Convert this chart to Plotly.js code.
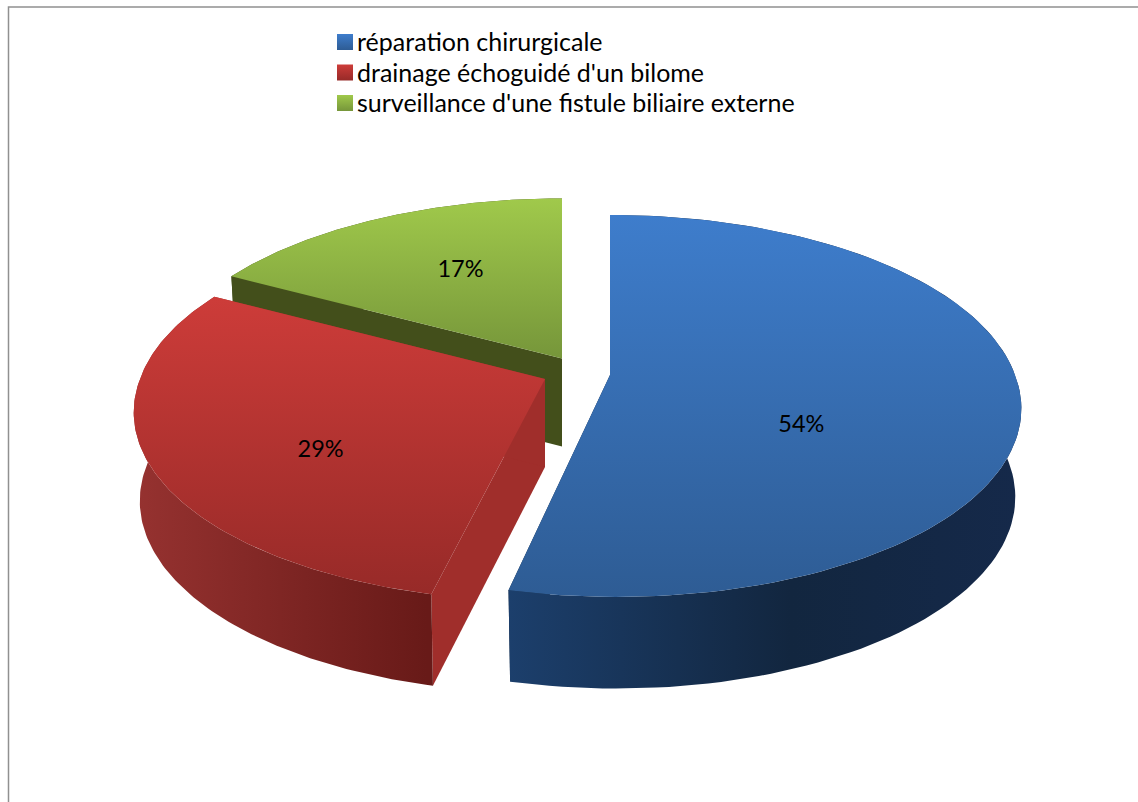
<!DOCTYPE html>
<html><head><meta charset="utf-8">
<script src="https://cdn.plot.ly/plotly-3.0.1.min.js"></script>
<style>html,body{margin:0;padding:0;background:#fff;overflow:hidden}#chart{width:1138px;height:802px}</style>
</head><body><div id="chart"></div>
<script>
// Data
var categories = ["réparation chirurgicale", "drainage échoguidé d'un bilome", "surveillance d'une fistule biliaire externe"];
var values = [53.6, 29.3, 17.1];
// Colours per slice
var topLight = ['#3e7dcc', '#cd3c39', '#a0c94b'];
var topDark  = ['#2e5c94', '#972a28', '#76963a'];
var sideA    = ['#1c3f6c', '#963230', '#434f1b'];
var sideB    = ['#12263f', '#681a18', '#434f1b'];
var sideEnd  = ['#15294a', '#681a18', '#434f1b'];
var sideMid  = [0.55, 0.98, 0.5];
var faceCol  = ['#12263f', '#a02e2b', '#434f1b'];
// Camera model of the tilted disc
var cam = {cx:576, cy:373, drop:88, a:405, b:186, aLow:399, bLow:189, k:0.162};
var explode = [[34,2],[-31,6],[-14,-14.5]];
var labelNudge = [[34,10],[-6,11],[19,1]];
var legendX = 345, legendY = 42, legendGap = 30.5, legendTextX = 357, legendTextDy = 3;

var total = values.reduce(function(s,v){return s+v;},0);
function project(low, off, th, r){
  var u = r*Math.sin(th), v = -r*Math.cos(th), d = 1-cam.k*v;
  var A = low?cam.aLow:cam.a, B = low?cam.bLow:cam.b;
  var spread = v>0 ? 1/d : 1;
  return [cam.cx + off[0]*spread + A*u/d, cam.cy + (low?cam.drop:0) + off[1] + B*v/d];
}
function arc(low, off, t0, t1){
  var pts=[], n=120;
  for(var i=0;i<=n;i++){ pts.push(project(low, off, t0+(t1-t0)*i/n, 1)); }
  return pts;
}
function poly(pts, opts){
  var t = {type:'scatter', mode:'lines', x:pts.map(function(p){return p[0];}).concat(pts[0][0]),
    y:pts.map(function(p){return p[1];}).concat(pts[0][1]), fill:'toself', line:{width:0}, hoverinfo:'skip', showlegend:false};
  for(var k in opts) t[k]=opts[k];
  return t;
}
function centroid(pts){
  var A=0,X=0,Y=0;
  for(var i=0;i<pts.length;i++){var p=pts[i],q=pts[(i+1)%pts.length],c=p[0]*q[1]-q[0]*p[1];A+=c;X+=(p[0]+q[0])*c;Y+=(p[1]+q[1])*c;}
  return [X/(3*A),Y/(3*A)];
}
var traces=[], labX=[], labY=[], labT=[];
var order=[2,1,0], acc=0, spans=[];
values.forEach(function(v,i){var s=acc/total*2*Math.PI; acc+=v; spans[i]=[s,acc/total*2*Math.PI];});
order.forEach(function(i){
  var t0=spans[i][0], t1=spans[i][1], off=explode[i];
  var topArc=arc(false,off,t0,t1), lowArc=arc(true,off,t0,t1);
  var apex=project(false,off,0,0), apexLow=project(true,off,0,0);
  // cut faces
  [t0,t1].forEach(function(th){
    var endT=project(false,off,th,1), endL=project(true,off,th,1);
    traces.push(poly([apex,endT,endL,apexLow],{fillcolor:faceCol[i]}));
  });
  // outer wall
  var wall=topArc.concat(lowArc.slice().reverse()), xs=wall.map(function(p){return p[0];});
  traces.push(poly(wall,{fillcolor:sideA[i],
    fillgradient:{type:'horizontal',start:Math.min.apply(null,xs),stop:Math.max.apply(null,xs),colorscale:[[0,sideA[i]],[sideMid[i],sideB[i]],[1,sideEnd[i]]]}}));
  // top surface
  var surf=[apex].concat(topArc), ys=surf.map(function(p){return p[1];});
  traces.push(poly(surf,{fillcolor:topLight[i],
    fillgradient:{type:'vertical',start:Math.min.apply(null,ys),stop:Math.max.apply(null,ys),colorscale:[[0,topLight[i]],[1,topDark[i]]]}}));
  var c=centroid(surf);
  labX.push(c[0]+labelNudge[i][0]); labY.push(c[1]+labelNudge[i][1]); labT.push(Math.round(values[i]/total*100)+'%');
});
traces.push({type:'scatter',mode:'text',x:labX,y:labY,text:labT,textposition:'middle center',
  textfont:{family:'Lato, sans-serif',size:23.5,color:'#000'},hoverinfo:'skip',showlegend:false});
categories.forEach(function(c,i){
  traces.push({type:'scatter',mode:'markers',x:[legendX],y:[legendY+i*legendGap],name:c,showlegend:false,hoverinfo:'skip',
    marker:{symbol:'square',size:16,color:topLight[i],line:{width:0},gradient:{type:'vertical',color:topDark[i]}}});
  traces.push({type:'scatter',mode:'text',x:[legendTextX],y:[legendY+legendTextDy+i*legendGap],text:[c],name:c,showlegend:false,
    textposition:'middle right',textfont:{family:'Lato, sans-serif',size:25,color:'#000'},cliponaxis:false,hoverinfo:'skip'});
});
var layout={width:1138,height:802,margin:{l:0,r:0,t:0,b:0},paper_bgcolor:'#fff',plot_bgcolor:'#fff',
  xaxis:{range:[0,1138],visible:false,fixedrange:true},
  yaxis:{range:[802,0],visible:false,fixedrange:true},
  showlegend:false,
  shapes:[{type:'path',xref:'x',yref:'y',path:'M8.5 802 L8.5 7 L1138 7',line:{color:'#909090',width:1.5}}]
};
Plotly.newPlot('chart',traces,layout,{displayModeBar:false,staticPlot:true});
</script></body></html>
